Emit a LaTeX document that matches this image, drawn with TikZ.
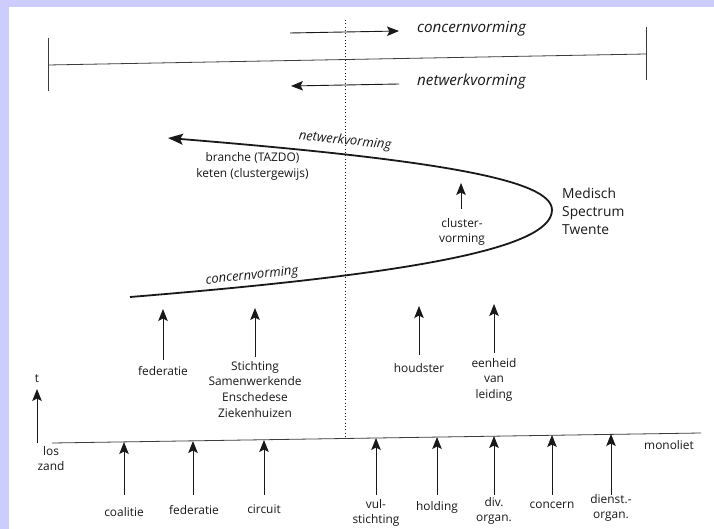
\documentclass[tikz,border=0pt]{standalone}
\usepackage{fontspec}
\setmainfont{Open Sans}
\usetikzlibrary{arrows.meta}
\definecolor{lav}{RGB}{204,204,255}
\definecolor{ink}{RGB}{25,25,25}
\tikzset{
  arr/.style={draw=ink, line width=0.9pt, -{Stealth[length=12pt,width=9.5pt,inset=2.5pt]}},
  lab/.style={inner sep=0pt, align=center, text=ink, font=\fontsize{11.9}{15.6}\selectfont},
  big/.style={inner sep=0pt, align=left, text=ink, font=\fontsize{13.8}{18}\selectfont},
  ital/.style={inner sep=0pt, text=ink, font=\fontsize{15.2}{17}\selectfont\itshape},
  curvelab/.style={inner sep=0pt, text=ink, font=\fontsize{13}{15}\selectfont\itshape},
  thin/.style={draw=ink!85, line width=0.8pt},
}
\begin{document}
\begin{tikzpicture}[x=1pt,y=-1pt]
% page frame
\fill[lav] (0,0) rectangle (714,529);
\fill[white] (8.5,7) rectangle (714,529);
\useasboundingbox (0,0) rectangle (714,529);

% ---------- top scale ----------
\coordinate (sL) at (48,65);
\coordinate (sR) at (646,54);
\coordinate (sLt) at (48,38);  \coordinate (sLb) at (48,91);
\coordinate (sRt) at (646,27); \coordinate (sRb) at (646,80);
\draw[thin] (sL) -- (sR);
\draw[thin] (sLt) -- (sLb);
\draw[thin] (sRt) -- (sRb);

\coordinate (cA) at (290,33); \coordinate (cB) at (399,31);
\draw[arr] (cA) -- (cB);
\node[ital, anchor=west] (topC) at (417,29) {concernvorming};
\coordinate (nA) at (399,84); \coordinate (nB) at (291,86);
\draw[arr] (nA) -- (nB);
\node[ital, anchor=west] (topN) at (417,82) {netwerkvorming};

% dotted divider
\coordinate (dT) at (345,20); \coordinate (dB) at (345,437);
\draw[draw=ink, line width=0.9pt, dash pattern=on 0.9pt off 2.4pt] (dT) -- (dB);

% ---------- development curve ----------
\coordinate (cvS) at (130,297);
\coordinate (cvV) at (552,210);
\coordinate (cvE) at (168,138);
\draw[draw=ink, line width=1.8pt] (cvS) .. controls (400,275) and (552,250) .. (cvV);
\draw[draw=ink, line width=1.8pt, -{Stealth[length=15pt,width=11pt,inset=3pt]}]
  (cvV) .. controls (552,180) and (440,160) .. (cvE);

\node[curvelab, rotate=-6] (lNet) at (345,141) {netwerkvorming};
\node[curvelab, rotate=6] (lCon) at (252,276) {concernvorming};
\node[lab, font=\fontsize{11.9}{16.5}\selectfont] (lBr) at (252.5,166.5) {branche (TAZDO)\\keten (clustergewijs)};

\node[lab] (clu) at (462,232) {cluster-\\vorming};
\coordinate (cluT) at (461,209); \coordinate (cluH) at (461,183);
\draw[arr] (cluT) -- (cluH);

\node[big, anchor=north west] (mst) at (562,188) {Medisch\\Spectrum\\Twente};

% ---------- intermediate forms ----------
\node[lab] (fedM) at (163,371) {federatie};
\coordinate (fedMT) at (163,360); \coordinate (fedMH) at (163,309);
\draw[arr] (fedMT) -- (fedMH);

\node[lab, anchor=north] (ssez) at (255,361) {Stichting\\Samenwerkende\\Enschedese\\Ziekenhuizen};
\coordinate (ssezT) at (255,357); \coordinate (ssezH) at (255,308);
\draw[arr] (ssezT) -- (ssezH);

\node[lab] (hou) at (419,368) {houdster};
\coordinate (houT) at (419,355); \coordinate (houH) at (419,306);
\draw[arr] (houT) -- (houH);

\node[lab, anchor=north] (evl) at (494,358) {eenheid\\van\\leiding};
\coordinate (evlT) at (494,353); \coordinate (evlH) at (494,304);
\draw[arr] (evlT) -- (evlH);

% ---------- time axis and base line ----------
\coordinate (tB) at (37,443); \coordinate (tH) at (37,389);
\draw[arr] (tB) -- (tH);
\node[lab] (tlab) at (37,379) {t};
\node[lab, anchor=north] (los) at (51,446) {los\\zand};

\coordinate (bL) at (52,443);
\coordinate (bR) at (701,433);
\draw[thin] (bL) -- (bR);
\node[lab, anchor=west] (mono) at (644,445) {monoliet};

% ---------- basic forms below the base line ----------
\foreach \nm/\x/\y/\txt in {
  coa/124/512/coalitie,
  fed/194/510/federatie,
  cir/264/509/circuit,
  hol/437/507/holding,
  con/552/505/concern}{
  \node[lab] (\nm) at (\x,\y) {\txt};
}
\node[lab, anchor=north] (vul) at (376,499) {vul-\\stichting};
\node[lab, anchor=north] (div) at (494,497) {div.\\organ.};
\node[lab, anchor=north] (die) at (611,494) {dienst.-\\organ.};

\foreach \nm/\x/\top in {coa/124/442, fed/193/441, cir/264/440, vul/376/438,
  hol/437/437, div/494/436, con/552/435, die/611/434}{
  \coordinate (\nm T) at (\x,495);
  \coordinate (\nm H) at (\x,\top);
  \draw[arr] (\nm T) -- (\nm H);
}
\end{tikzpicture}
\end{document}
